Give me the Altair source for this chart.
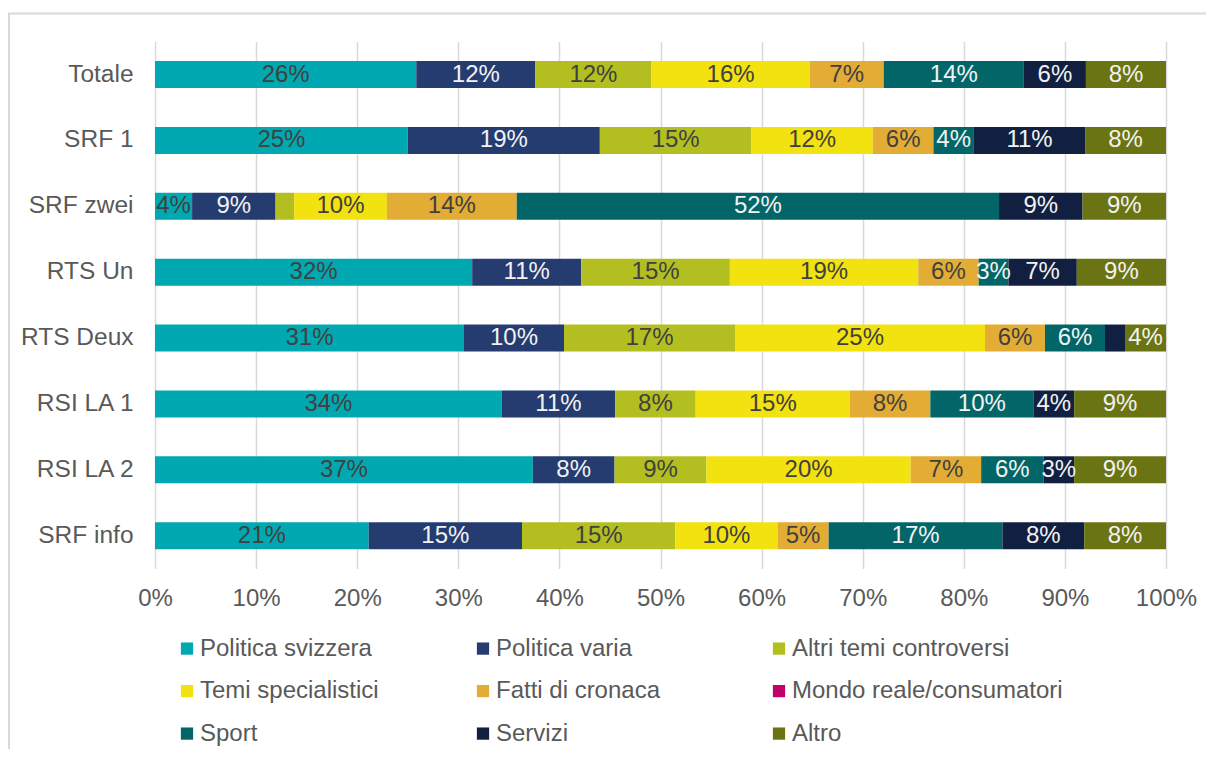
import altair as alt
import pandas as pd

channels = ["Totale", "SRF 1", "SRF zwei", "RTS Un", "RTS Deux", "RSI LA 1", "RSI LA 2", "SRF info"]
series = ["Politica svizzera", "Politica varia", "Altri temi controversi",
          "Temi specialistici", "Fatti di cronaca", "Mondo reale/consumatori",
          "Sport", "Servizi", "Altro"]

politica_svizzera = [26.1, 25.0, 4.0, 32.0, 30.9, 34.0, 37.0, 20.9]
politica_varia = [11.9, 19.0, 9.0, 11.0, 10.0, 11.1, 8.0, 15.0]
altri_temi = [11.6, 15.0, 2.0, 15.0, 17.1, 7.9, 9.0, 15.0]
temi_specialistici = [15.8, 12.0, 10.0, 19.0, 25.0, 15.1, 20.0, 10.0]
fatti_cronaca = [7.4, 6.0, 14.0, 6.1, 6.0, 7.9, 6.9, 5.0]
mondo_reale = [0, 0, 0, 0, 0, 0, 0, 0]
sport = [14.0, 4.0, 52.0, 3.0, 6.0, 10.1, 6.1, 17.0]
servizi = [6.2, 11.0, 9.0, 6.9, 2.0, 4.0, 3.0, 8.0]
altro = [8.0, 8.0, 9.0, 9.0, 4.1, 9.0, 9.0, 8.0]

colors = ["#00A9B1", "#243C70", "#B3BF21", "#F2E20F", "#E3AD35",
          "#C0006B", "#026668", "#111F40", "#6B7413"]
light_label_series = ["Politica varia", "Sport", "Servizi", "Altro"]

all_values = [politica_svizzera, politica_varia, altri_temi, temi_specialistici,
              fatti_cronaca, mondo_reale, sport, servizi, altro]
rows = []
for si, (s, vals) in enumerate(zip(series, all_values)):
    for c, v in zip(channels, vals):
        rows.append({"channel": c, "series": s, "order": si, "value": v})
df = pd.DataFrame(rows)

FONT = "Liberation Sans"
FS = 24

base = alt.Chart(df).transform_stack(
    stack="value", groupby=["channel"], sort=[alt.SortField("order")],
    offset="normalize", as_=["x0", "x1"]
).transform_calculate(
    mid="(datum.x0 + datum.x1) / 2",
    label="format(datum.value, '.0f') + '%'"
)

yenc = alt.Y("channel:N", sort=channels,
             scale=alt.Scale(paddingInner=0.59, paddingOuter=0.295),
             axis=alt.Axis(title=None, labelFontSize=24.5, labelColor="#595959",
                           labelFont=FONT, labelPadding=22, ticks=False, domain=False))

bars = base.mark_bar().encode(
    x=alt.X("x0:Q", scale=alt.Scale(domain=[0, 1]),
            axis=alt.Axis(format=".0%", values=[i / 10 for i in range(11)], title=None,
                          grid=True, gridColor="#D9D9D9", gridWidth=1.5,
                          ticks=False, domain=False, labelFontSize=FS, labelFlush=False,
                          labelColor="#595959", labelFont=FONT, labelPadding=18)),
    x2="x1:Q",
    y=yenc,
    color=alt.Color("series:N", sort=series,
                    scale=alt.Scale(domain=series, range=colors),
                    legend=alt.Legend(orient="none", legendX=20, legendY=595, columns=3,
                                      direction="horizontal",
                                      title=None, symbolType="square", symbolSize=150,
                                      symbolStrokeWidth=0, labelFontSize=FS,
                                      labelColor="#595959", labelFont=FONT,
                                      columnPadding=0, rowPadding=18.5, labelLimit=400,
                                      gridAlign="all", labelOffset=1, padding=0)),
)

texts = base.transform_filter("datum.value >= 2.5").mark_text(
    fontSize=FS, font=FONT, align="center", baseline="middle"
).encode(
    x=alt.X("mid:Q"),
    y=yenc,
    text="label:N",
    color=alt.condition(alt.FieldOneOfPredicate(field="series", oneOf=light_label_series),
                        alt.value("#F2F2F2"), alt.value("#404040")),
)

border = alt.Chart(alt.Data(values=[{"a": 1}])).mark_rect(
    fill=None, stroke="#D9D9D9", strokeWidth=2
).encode(
    x=alt.value(-146), x2=alt.value(1400), y=alt.value(-28), y2=alt.value(1000)
)

chart = alt.layer(border, bars, texts).properties(
    width=1011, height=527,
    padding={"left": 147, "top": 33.6, "right": 40, "bottom": 180},
    autosize=alt.AutoSizeParams(type="none"),
).configure_view(stroke=None)

chart.save("out.html", embed_options={"renderer": "svg", "actions": False})
